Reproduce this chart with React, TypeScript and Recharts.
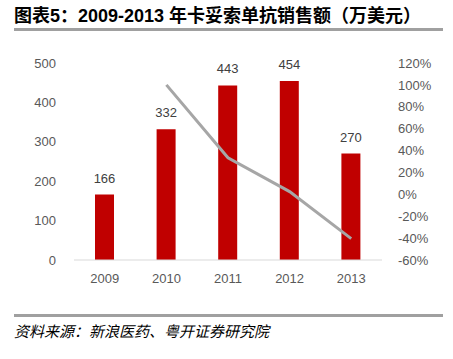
import React from "react";
import { ComposedChart, Bar, Line, XAxis, YAxis, LabelList } from "recharts";

const years = ["2009", "2010", "2011", "2012", "2013"];
const sales = [166, 332, 443, 454, 270];
const growth: (number | null)[] = [null, 100, 33.4, 2.5, -40.5];
const leftTicks = [0, 100, 200, 300, 400, 500];
const rightTicks = [-60, -40, -20, 0, 20, 40, 60, 80, 100, 120];

const data = years.map((y, i) => ({ year: y, sales: sales[i], growth: growth[i] }));

const FONT = "'Liberation Sans', Arial, sans-serif";
const CJK = "'Noto Sans CJK SC', sans-serif";

export default function App() {
  return (
    <div style={{ position: "absolute", left: 0, top: 0, width: 453, height: 359, background: "#fff" }}>
      <div
        style={{
          position: "absolute",
          left: 14,
          top: 4,
          fontFamily: "'Liberation Sans', 'Noto Sans CJK SC', sans-serif",
          fontWeight: 700,
          fontSize: 18,
          lineHeight: "24px",
          color: "#000",
          whiteSpace: "nowrap",
        }}
      >
        图表5：2009-2013 年卡妥索单抗销售额（万美元）
      </div>
      <div style={{ position: "absolute", left: 14, top: 28, width: 429, height: 2.5, background: "#A0A0A0" }} />
      <div style={{ position: "absolute", left: 0, top: 0 }}>
        <ComposedChart width={453} height={359} data={data} margin={{ top: 63, right: 0, bottom: 69, left: 0 }}>
          <XAxis
            dataKey="year"
            height={30}
            axisLine={{ stroke: "#D9D9D9" }}
            tickLine={false}
            tickSize={6}
            tickMargin={8}
            tick={{ fill: "#595959", fontSize: 13, fontFamily: FONT }}
          />
          <YAxis
            yAxisId="left"
            orientation="left"
            width={74}
            domain={[0, 500]}
            ticks={leftTicks}
            axisLine={false}
            tickLine={false}
            tickSize={8}
            tickMargin={10}
            tick={{ fill: "#595959", fontSize: 13, fontFamily: FONT }}
          />
          <YAxis
            yAxisId="right"
            orientation="right"
            width={71}
            domain={[-60, 120]}
            ticks={rightTicks}
            axisLine={false}
            tickLine={false}
            tickSize={6}
            tickMargin={10}
            tickFormatter={(v: number) => `${v}%`}
            tick={{ fill: "#595959", fontSize: 13, fontFamily: FONT, textAnchor: "start" }}
          />
          <Bar yAxisId="left" dataKey="sales" fill="#C00000" barSize={19} isAnimationActive={false}>
            <LabelList dataKey="sales" position="top" offset={12} fill="#404040" fontSize={13} fontFamily={FONT} />
          </Bar>
          <Line
            yAxisId="right"
            dataKey="growth"
            stroke="#A6A6A6"
            strokeWidth={3}
            dot={false}
            activeDot={false}
            connectNulls
            isAnimationActive={false}
          />
        </ComposedChart>
      </div>
      <div style={{ position: "absolute", left: 14, top: 314, width: 429, height: 2.5, background: "#A0A0A0" }} />
      <div
        style={{
          position: "absolute",
          left: 14,
          top: 320,
          fontFamily: CJK,
          fontStyle: "italic",
          fontSize: 15,
          lineHeight: "22px",
          color: "#000",
          whiteSpace: "nowrap",
        }}
      >
        资料来源：新浪医药、粤开证券研究院
      </div>
    </div>
  );
}
